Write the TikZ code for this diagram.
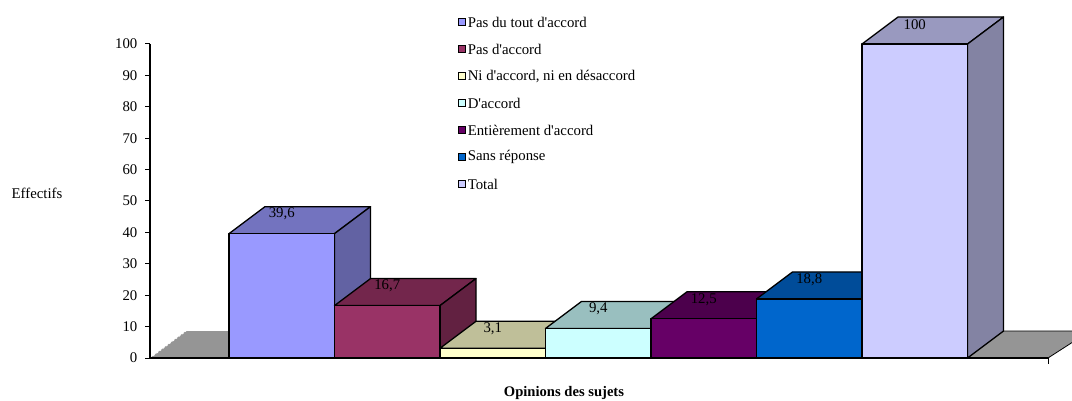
\documentclass[tikz,border=0pt]{standalone}
\usepackage{fontspec}
\setmainfont{Liberation Serif}[Ligatures=TeXOff]
\definecolor{cPas}{HTML}{9999FF}
\definecolor{cPasAcc}{HTML}{993366}
\definecolor{cNi}{HTML}{FFFFCC}
\definecolor{cAcc}{HTML}{CCFFFF}
\definecolor{cEnt}{HTML}{660066}
\definecolor{cSans}{HTML}{0066CC}
\definecolor{cTot}{HTML}{CCCCFF}
\definecolor{floorgray}{HTML}{959595}
\tikzset{
  barline/.style={draw=black, line width=1.3pt, line join=round},
  vlabel/.style={inner sep=0pt, font=\fontsize{14.8}{17}\selectfont},
  ticklabel/.style={inner sep=0pt, anchor=east, font=\fontsize{14.8}{17}\selectfont},
  legsq/.style={draw=black, line width=1.2pt, minimum size=7pt, inner sep=0pt},
  legtext/.style={anchor=west, inner sep=1.5pt, font=\fontsize{14.8}{17}\selectfont},
}
% one 3-D column: name, left edge, value, colour, printed value
\newcommand\chartbar[5]{%
  \pgfmathsetmacro\bartop{358-3.14*#3}
  \filldraw[barline, fill=#4!75!black] (#2,\bartop) -- (#2+36,\bartop-27) -- (#2+141.5,\bartop-27) -- (#2+105.5,\bartop) -- cycle;
  \filldraw[barline, fill=#4!64!black] (#2+105.5,358) -- (#2+141.5,331) -- (#2+141.5,\bartop-27) -- (#2+105.5,\bartop) -- cycle;
  \filldraw[barline, fill=#4] (#2,358) rectangle (#2+105.5,\bartop);
  \node[vlabel] (#1) at (#2+52.75,\bartop-19.5) {#5};
}
\begin{document}
\begin{tikzpicture}[x={(1pt,0)}, y={(0,-1pt)}]
  \useasboundingbox (0,0) rectangle (1072,401);
  \clip (0,0) rectangle (1072,401);

  % floor
  \fill[floorgray] (150,358) -- (186,331) -- (240,331) -- (240,358) -- cycle;
  \draw[white, dashed, dash pattern=on 2pt off 2pt, line width=0.9pt] (150,358) -- (186,331);
  \filldraw[fill=floorgray, draw=black, line width=0.8pt] (960,358) -- (996,331) -- (1090,331) -- (1048,358) -- cycle;

  % columns
  \chartbar{v1}{229}{39.6}{cPas}{39,6}
  \chartbar{v2}{334.5}{16.7}{cPasAcc}{16,7}
  \chartbar{v3}{440}{3.1}{cNi}{3,1}
  \chartbar{v4}{545.5}{9.4}{cAcc}{9,4}
  \chartbar{v5}{651}{12.5}{cEnt}{12,5}
  \chartbar{v6}{756.5}{18.8}{cSans}{18,8}
  \chartbar{v7}{862}{100}{cTot}{100}

  % axes
  \draw[line width=1.8pt] (150,44) -- (150,359);
  \draw[line width=1.8pt] (149,358) -- (1048,358);
  \draw[line width=1pt] (1048,358) -- (1048,364);
  \foreach \k in {0,...,10} {
    \pgfmathtruncatemacro\val{10*\k}
    \draw[line width=1pt] (145,358-31.4*\k) -- (150,358-31.4*\k);
    \node[ticklabel] (t\k) at (137.5,358-31.4*\k) {\val};
  }

  % axis titles
  \node[anchor=west, inner sep=0pt, font=\fontsize{14.8}{17}\selectfont] (ytitle) at (11.5,193) {Effectifs};
  \node[inner sep=0pt, font=\fontsize{14.6}{17}\selectfont\bfseries] (xtitle) at (564,393) {Opinions des sujets};

  % legend
  \node[legsq, fill=cPas]    (k1) at (462,22)  {};
  \node[legsq, fill=cPasAcc] (k2) at (462,49)  {};
  \node[legsq, fill=cNi]     (k3) at (462,76)  {};
  \node[legsq, fill=cAcc]    (k4) at (462,103) {};
  \node[legsq, fill=cEnt]    (k5) at (462,130) {};
  \node[legsq, fill=cSans]   (k6) at (462,157) {};
  \node[legsq, fill=cTot]    (k7) at (462,184) {};
  \node[legtext] (l1) at (k1.east) {Pas du tout d'accord};
  \node[legtext] (l2) at (k2.east) {Pas d'accord};
  \node[legtext] (l3) at (k3.east) {Ni d'accord, ni en désaccord};
  \node[legtext] (l4) at (k4.east) {D'accord};
  \node[legtext] (l5) at (k5.east) {Entièrement d'accord};
  \node[legtext] (l6) at (k6.east) {Sans réponse};
  \node[legtext] (l7) at (k7.east) {Total};
\end{tikzpicture}
\end{document}
